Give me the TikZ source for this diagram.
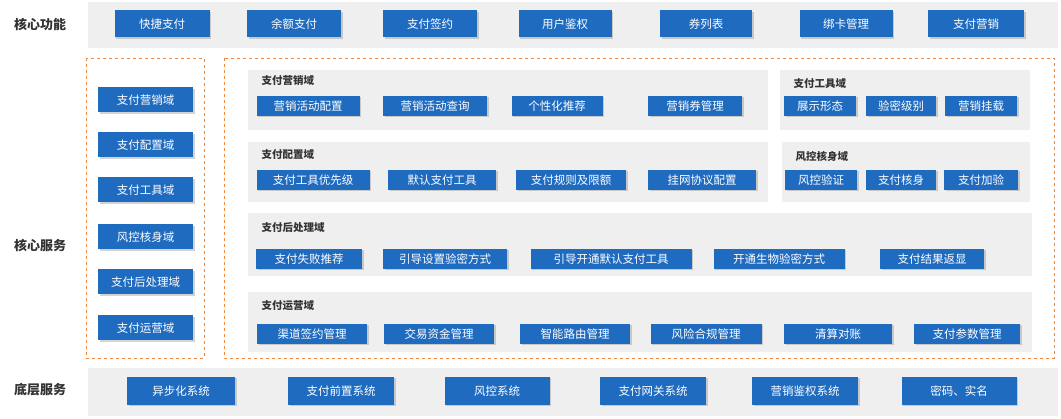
\documentclass[tikz,border=0pt]{standalone}
\usepackage{fontspec}
\setmainfont{Noto Sans CJK SC}
\usetikzlibrary{shadows}
\definecolor{boxblue}{HTML}{1F6BC0}
\definecolor{panelgray}{HTML}{EFEFEF}
\definecolor{dashorange}{HTML}{EE8A3E}
\tikzset{
  fn/.style={rectangle, fill=boxblue, text=white, font=\fontsize{11.5}{12}\selectfont, minimum height=20pt, inner sep=1pt, drop shadow={opacity=0.35, shadow xshift=1.5pt, shadow yshift=-1.5pt}},
  panel/.style={fill=panelgray, draw=none},
  frame/.style={draw=dashorange, dashed, line width=0.6pt},
  title/.style={font=\bfseries\fontsize{10.5}{11}\selectfont, text=black!80, anchor=west},
  side/.style={font=\bfseries\fontsize{13}{14}\selectfont, text=black!80}
}
\begin{document}
\begin{tikzpicture}[x=1pt, y=-1pt]
	\useasboundingbox (0,0) rectangle (1061,419);
	% bands and frames
	\fill[panelgray] (88,2) rectangle (1058,48);
	\fill[panelgray] (88,368) rectangle (1058,416);
	\draw[frame] (86,58) rectangle (204,358);
	\draw[frame] (224,58) rectangle (1054,358);
	\fill[panelgray] (248,70) rectangle (768,130);
	\fill[panelgray] (780,70) rectangle (1030,130);
	\fill[panelgray] (248,142) rectangle (768,202);
	\fill[panelgray] (782,142) rectangle (1030,202);
	\fill[panelgray] (248,213) rectangle (1032,276);
	\fill[panelgray] (248,292) rectangle (1032,352);

	\node[side] (core) at (40,25) {核心功能};
	\node[side] (svc) at (40,245) {核心服务};
	\node[side] (base) at (40,390) {底层服务};

	% top row
	\foreach \n/\x/\w/\t in {f1/162/95/快捷支付, f2/294/94/余额支付, f3/430/94/支付签约, f4/565/93/用户鉴权, f5/706/92/券列表, f6/846/93/绑卡管理, f7/976/96/支付营销}
		\node[fn, minimum width=\w pt, minimum height=27pt] (\n) at (\x,24) {\t};

	% left column
	\foreach \n/\y/\t in {d1/100/支付营销域, d2/145/支付配置域, d3/190/支付工具域, d4/237/风控核身域, d5/282/支付后处理域, d6/328/支付运营域}
		\node[fn, minimum width=95pt, minimum height=25pt] (\n) at (145.5,\y) {\t};

	% domains
	\node[title] (t1) at (258,81) {支付营销域};
	\node[title] (t2) at (790,84) {支付工具域};
	\node[title] (t3) at (258,155) {支付配置域};
	\node[title] (t4) at (792,156) {风控核身域};
	\node[title] (t5) at (258,228) {支付后处理域};
	\node[title] (t6) at (258,306) {支付运营域};

	\foreach \n/\x/\w/\t in {a1/308/103/营销活动配置, a2/435/104/营销活动查询, a3/557/91/个性化推荐, a4/695/94/营销券管理, b1/820/72/展示形态, b2/901/70/验密级别, b3/981/72/营销挂载}
		\node[fn, minimum width=\w pt] (\n) at (\x,106) {\t};
	\foreach \n/\x/\w/\t in {c1/313/113/支付工具优先级, c2/442/108/默认支付工具, c3/571/110/支付规则及限额, c4/702/108/挂网协议配置, e1/821/72/风控验证, e2/901/70/支付核身, e3/981/74/支付加验}
		\node[fn, minimum width=\w pt] (\n) at (\x,180) {\t};
	\foreach \n/\x/\w/\t in {g1/309/106/支付失败推荐, g2/445/124/引导设置验密方式, g3/611/161/引导开通默认支付工具, g4/779/131/开通生物验密方式, g5/932/104/支付结果返显}
		\node[fn, minimum width=\w pt] (\n) at (\x,259) {\t};
	\foreach \n/\x/\w/\t in {h1/312/110/渠道签约管理, h2/439/110/交易资金管理, h3/575/110/智能路由管理, h4/706/111/风险合规管理, h5/838/108/清算对账, h6/967/106/支付参数管理}
		\node[fn, minimum width=\w pt] (\n) at (\x,334) {\t};

	% bottom row
	\foreach \n/\x/\w/\t in {s1/181/108/异步化系统, s2/341/106/支付前置系统, s3/497/105/风控系统, s4/653/106/支付网关系统, s5/805/106/营销鉴权系统, s6/959/115/密码、实名}
		\node[fn, minimum width=\w pt, minimum height=28pt] (\n) at (\x,391) {\t};
\end{tikzpicture}
\end{document}
